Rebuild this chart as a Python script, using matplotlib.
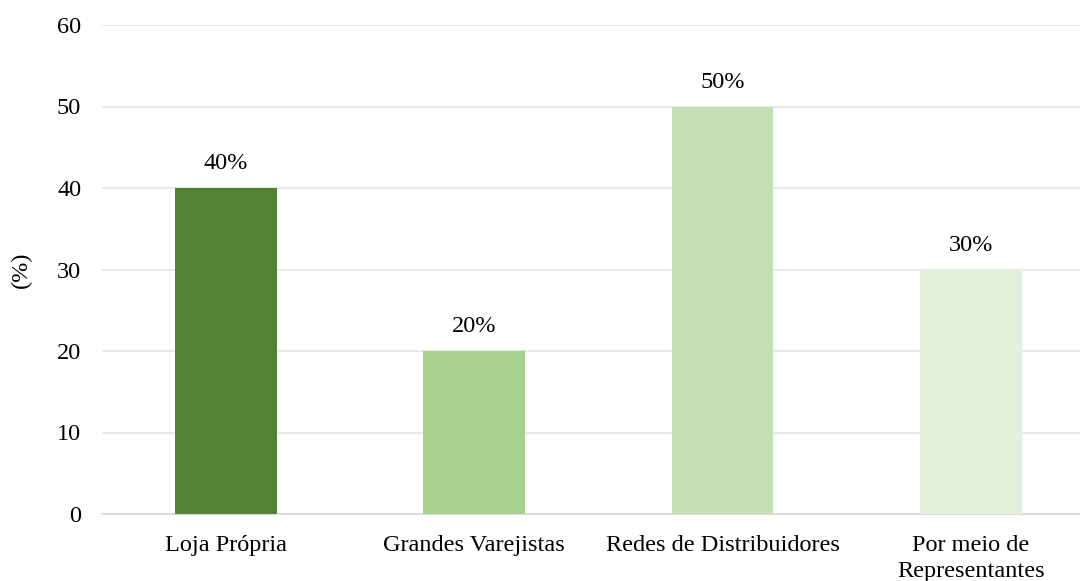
import matplotlib
matplotlib.use("Agg")
import matplotlib.pyplot as plt

# canais de venda
categories = ["Loja Própria", "Grandes Varejistas", "Redes de Distribuidores", "Por meio de\nRepresentantes"]
values = [40, 20, 50, 30]
colors = ["#548235", "#A9D18E", "#C5E0B4", "#E2F0D9"]
yticks = [0, 10, 20, 30, 40, 50, 60]

plt.rcParams['font.family'] = ['Liberation Serif', 'DejaVu Serif']
fs = 17.5

fig = plt.figure(figsize=(10.8, 5.81), dpi=100)
ax = fig.add_axes([102/1080, 1 - 514/581, 1 - 102/1080, (514 - 25)/581])

x = range(len(categories))
bars = ax.bar(x, values, width=0.41, color=colors, zorder=3)
for b, v in zip(bars, values):
    ax.text(b.get_x() + b.get_width()/2, v + 1.7, "%d%%" % v,
            ha="center", va="bottom", fontsize=fs)

ax.set_ylim(0, 60)
ax.set_xlim(-0.5, 3.44)
ax.set_yticks(yticks)
ax.set_xticks(list(x))
ax.set_xticklabels(categories, fontsize=fs, linespacing=1.3)
ax.tick_params(axis="y", labelsize=fs, length=0, pad=15)
ax.tick_params(axis="x", length=0, pad=15)
ax.grid(axis="y", color="#E6E6E6", linewidth=1.3, zorder=0)
for s in ["top", "right", "left"]:
    ax.spines[s].set_visible(False)
ax.spines["bottom"].set_color("#D9D9D9")
ax.spines["bottom"].set_linewidth(1.3)
ax.set_ylabel("(%)", fontsize=fs, labelpad=18)

fig.savefig("out.png", dpi=100)
